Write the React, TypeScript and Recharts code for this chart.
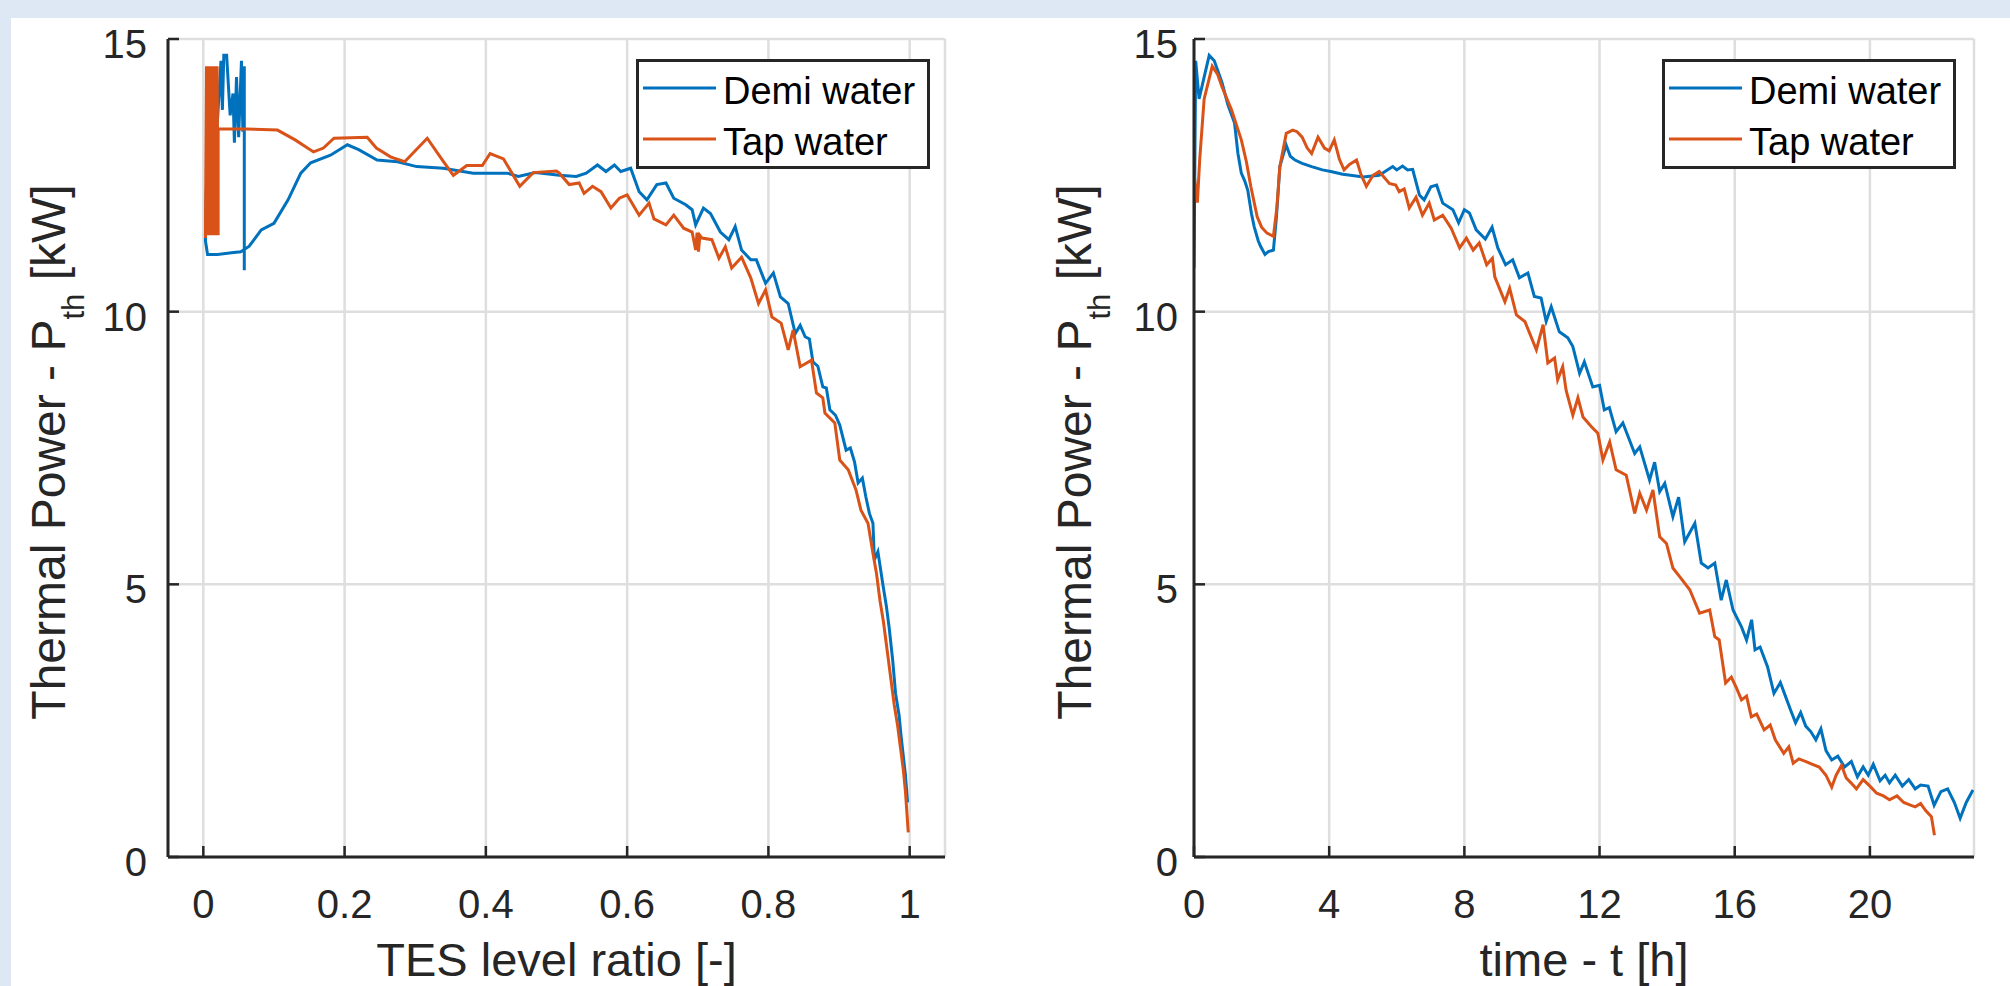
import React from 'react';
import { LineChart, Line, XAxis, YAxis, CartesianGrid, Legend } from 'recharts';

// ---------- tick labels / axis settings ----------
const tesTicks = [0, 0.2, 0.4, 0.6, 0.8, 1];
const timeTicks = [0, 4, 8, 12, 16, 20];
const powerTicks = [0, 5, 10, 15];
const tesDomain = [-0.05, 1.05];
const timeDomain = [0, 23.08];
const powerDomain = [0, 15];
const seriesNames = ['Demi water', 'Tap water'];
const xLabelLeft = 'TES level ratio [-]';
const xLabelRight = 'time - t [h]';

// ---------- left plot: P_th vs TES level ratio ----------
const tesDemi: [number, number][] = [
  [0.058, 10.76], [0.058, 14.5], [0.056, 13.3], [0.054, 14.6], [0.05, 13.2], [0.047, 14.3],
  [0.044, 13.1], [0.042, 14.0], [0.038, 13.6], [0.033, 14.7], [0.029, 14.7], [0.027, 13.7],
  [0.025, 14.6], [0.02, 13.5], [0.012, 13.0], [0.004, 12.2], [0.003, 11.3], [0.006, 11.05],
  [0.02, 11.05], [0.04, 11.08], [0.053, 11.1], [0.065, 11.2], [0.082, 11.5], [0.1, 11.62],
  [0.12, 12.05], [0.138, 12.54], [0.152, 12.73], [0.18, 12.87], [0.204, 13.06], [0.22, 12.97],
  [0.246, 12.78], [0.275, 12.75], [0.302, 12.66], [0.34, 12.63], [0.382, 12.54], [0.43, 12.54],
  [0.446, 12.48], [0.47, 12.55], [0.504, 12.5], [0.528, 12.48], [0.542, 12.54], [0.558, 12.69],
  [0.57, 12.57], [0.582, 12.69], [0.591, 12.57], [0.605, 12.63], [0.617, 12.2], [0.628, 12.05],
  [0.642, 12.33], [0.655, 12.36], [0.666, 12.08], [0.683, 11.96], [0.692, 11.87], [0.697, 11.59],
  [0.708, 11.9], [0.718, 11.8], [0.732, 11.46], [0.744, 11.32], [0.753, 11.56], [0.762, 11.13],
  [0.775, 10.95], [0.783, 10.95], [0.796, 10.52], [0.807, 10.71], [0.817, 10.27], [0.828, 10.15],
  [0.838, 9.6], [0.845, 9.75], [0.852, 9.54], [0.858, 9.5], [0.863, 9.08], [0.87, 9.0],
  [0.877, 8.62], [0.882, 8.6], [0.887, 8.2], [0.895, 8.1], [0.901, 7.92], [0.91, 7.46],
  [0.916, 7.5], [0.922, 7.24], [0.927, 6.86], [0.933, 6.95], [0.938, 6.6], [0.943, 6.3],
  [0.948, 6.12], [0.95, 5.45], [0.955, 5.6], [0.962, 5.0], [0.967, 4.6], [0.971, 4.2],
  [0.976, 3.6], [0.98, 3.0], [0.985, 2.6], [0.988, 2.2], [0.994, 1.5], [0.997, 1.0],
];

const tesTap: [number, number][] = [
  [0.003, 11.35], [0.0045, 14.5], [0.006, 11.4], [0.0075, 14.5], [0.009, 11.4], [0.0105, 14.5],
  [0.012, 11.4], [0.0135, 14.5], [0.015, 11.4], [0.0165, 14.5], [0.018, 11.4], [0.0195, 14.5],
  [0.021, 11.4], [0.021, 13.35], [0.06, 13.35], [0.105, 13.33], [0.13, 13.15], [0.156, 12.93],
  [0.17, 13.0], [0.185, 13.18], [0.232, 13.2], [0.245, 13.0], [0.265, 12.84], [0.285, 12.75],
  [0.3, 12.95], [0.317, 13.18], [0.34, 12.75], [0.354, 12.5], [0.373, 12.68], [0.395, 12.68],
  [0.406, 12.9], [0.425, 12.8], [0.448, 12.3], [0.467, 12.55], [0.5, 12.58], [0.504, 12.54],
  [0.518, 12.33], [0.532, 12.36], [0.539, 12.17], [0.551, 12.3], [0.563, 12.2], [0.577, 11.9],
  [0.589, 12.08], [0.6, 12.14], [0.617, 11.77], [0.631, 11.99], [0.638, 11.7], [0.655, 11.59],
  [0.666, 11.77], [0.68, 11.53], [0.692, 11.46], [0.697, 11.13], [0.699, 11.45], [0.701, 11.1],
  [0.703, 11.4], [0.706, 11.35], [0.72, 11.32], [0.73, 10.98], [0.739, 11.19], [0.748, 10.8],
  [0.762, 11.0], [0.775, 10.62], [0.786, 10.15], [0.796, 10.4], [0.805, 9.9], [0.818, 9.79],
  [0.828, 9.3], [0.835, 9.66], [0.845, 8.99], [0.861, 9.11], [0.868, 8.51], [0.877, 8.42],
  [0.88, 8.14], [0.894, 7.96], [0.901, 7.28], [0.913, 7.1], [0.924, 6.73], [0.931, 6.36],
  [0.941, 6.12], [0.948, 5.57], [0.953, 5.2], [0.958, 4.7], [0.963, 4.3], [0.968, 3.8],
  [0.973, 3.3], [0.978, 2.8], [0.983, 2.4], [0.987, 2.0], [0.991, 1.6], [0.994, 1.2],
  [0.998, 0.45],
];

// ---------- right plot: P_th vs time ----------
const timeDemi: [number, number][] = [
  [0.0, 10.8], [0.05, 14.6], [0.15, 13.9], [0.3, 14.3], [0.45, 14.7], [0.6, 14.6], [0.83, 14.2],
  [1.0, 13.8], [1.2, 13.46], [1.3, 12.9], [1.4, 12.54], [1.5, 12.4], [1.59, 12.23], [1.7, 11.8],
  [1.78, 11.56], [1.9, 11.3], [1.97, 11.2], [2.1, 11.05], [2.2, 11.1], [2.35, 11.13], [2.44, 11.74],
  [2.54, 12.66], [2.65, 12.9], [2.73, 13.05], [2.85, 12.85], [2.99, 12.78], [3.2, 12.72], [3.48, 12.66],
  [3.8, 12.6], [4.05, 12.57], [4.4, 12.52], [4.63, 12.5], [5.0, 12.47], [5.48, 12.5], [5.88, 12.66],
  [6.0, 12.6], [6.17, 12.67], [6.32, 12.6], [6.47, 12.61], [6.67, 12.14], [6.81, 12.05], [7.01, 12.29],
  [7.18, 12.32], [7.36, 11.99], [7.66, 11.87], [7.83, 11.63], [8.0, 11.87], [8.15, 11.81], [8.35, 11.5],
  [8.62, 11.33], [8.82, 11.55], [8.99, 11.17], [9.22, 10.86], [9.43, 10.95], [9.63, 10.62], [9.88, 10.71],
  [10.07, 10.28], [10.27, 10.25], [10.42, 9.82], [10.57, 10.09], [10.81, 9.63], [11.06, 9.52],
  [11.21, 9.36], [11.41, 8.87], [11.55, 9.08], [11.8, 8.62], [12.0, 8.65], [12.14, 8.2], [12.29, 8.24],
  [12.49, 7.8], [12.69, 7.96], [13.04, 7.4], [13.19, 7.52], [13.48, 6.91], [13.63, 7.24], [13.78, 6.7],
  [13.93, 6.85], [14.17, 6.24], [14.34, 6.6], [14.52, 5.78], [14.82, 6.12], [15.01, 5.39], [15.21, 5.3],
  [15.41, 5.39], [15.6, 4.71], [15.75, 5.08], [15.95, 4.53], [16.2, 4.22], [16.35, 3.98], [16.5, 4.35],
  [16.6, 3.8], [16.75, 3.85], [16.97, 3.49], [17.16, 3.0], [17.35, 3.2], [17.5, 2.95], [17.65, 2.7],
  [17.8, 2.46], [17.95, 2.65], [18.1, 2.4], [18.25, 2.3], [18.4, 2.15], [18.55, 2.35], [18.7, 1.95],
  [18.87, 1.78], [19.05, 1.85], [19.25, 1.65], [19.45, 1.75], [19.63, 1.47], [19.8, 1.65], [19.95, 1.5],
  [20.1, 1.7], [20.3, 1.4], [20.45, 1.5], [20.58, 1.36], [20.75, 1.5], [20.96, 1.3], [21.15, 1.42],
  [21.34, 1.25], [21.5, 1.32], [21.72, 1.3], [21.9, 0.95], [22.1, 1.2], [22.3, 1.25], [22.5, 1.0],
  [22.67, 0.71], [22.85, 1.0], [23.05, 1.23],
];

const timeTap: [number, number][] = [
  [0.0, 12.54], [0.1, 12.0], [0.17, 12.8], [0.3, 13.9], [0.54, 14.5], [0.7, 14.35], [0.83, 14.12],
  [1.11, 13.7], [1.4, 13.15], [1.55, 12.75], [1.68, 12.3], [1.87, 11.74], [2.0, 11.55], [2.16, 11.44],
  [2.35, 11.38], [2.45, 11.9], [2.54, 12.66], [2.73, 13.27], [2.92, 13.33], [3.05, 13.3], [3.2, 13.2],
  [3.35, 13.0], [3.48, 12.9], [3.67, 13.2], [3.86, 13.0], [4.0, 12.95], [4.15, 13.15], [4.3, 12.8],
  [4.44, 12.6], [4.6, 12.7], [4.81, 12.78], [4.95, 12.5], [5.1, 12.3], [5.3, 12.5], [5.48, 12.57],
  [5.78, 12.35], [5.97, 12.32], [6.07, 12.2], [6.22, 12.25], [6.37, 11.9], [6.57, 12.1], [6.76, 11.77],
  [6.96, 11.99], [7.11, 11.68], [7.36, 11.77], [7.61, 11.53], [7.86, 11.17], [8.06, 11.35], [8.26, 11.13],
  [8.44, 11.26], [8.66, 10.86], [8.83, 10.98], [8.9, 10.64], [9.2, 10.18], [9.34, 10.43], [9.54, 9.94],
  [9.79, 9.82], [10.13, 9.3], [10.33, 9.76], [10.47, 9.06], [10.67, 9.15], [10.76, 8.75], [10.91, 8.99],
  [11.01, 8.56], [11.21, 8.1], [11.36, 8.42], [11.51, 8.07], [11.76, 7.89], [11.95, 7.77], [12.1, 7.28],
  [12.3, 7.61], [12.49, 7.1], [12.79, 7.0], [13.04, 6.3], [13.19, 6.67], [13.39, 6.36], [13.58, 6.73],
  [13.78, 5.87], [13.98, 5.75], [14.17, 5.3], [14.37, 5.14], [14.67, 4.9], [14.96, 4.47], [15.26, 4.53],
  [15.41, 4.04], [15.54, 3.98], [15.73, 3.19], [15.9, 3.3], [16.05, 3.1], [16.2, 2.88], [16.35, 2.95],
  [16.49, 2.57], [16.65, 2.62], [16.87, 2.33], [17.05, 2.42], [17.2, 2.15], [17.45, 1.9], [17.6, 2.02],
  [17.73, 1.72], [17.9, 1.8], [18.11, 1.75], [18.3, 1.7], [18.5, 1.65], [18.7, 1.5], [18.87, 1.28],
  [19.0, 1.5], [19.16, 1.68], [19.3, 1.45], [19.44, 1.36], [19.6, 1.25], [19.8, 1.42], [20.0, 1.3],
  [20.2, 1.17], [20.4, 1.12], [20.58, 1.05], [20.8, 1.12], [21.0, 1.0], [21.2, 0.95], [21.34, 0.92],
  [21.5, 0.98], [21.65, 0.85], [21.82, 0.74], [21.91, 0.4],
];

// ---------- styling ----------
const FONT = '"Liberation Sans", Arial, Helvetica, sans-serif';
const AX = '#262626';
const BLUE = '#0072BD';
const ORANGE = '#D95319';
const GRID = '#dedede';
const TICK_FS = 40;
const LABEL_FS = 47;
const YLABEL_FS = 48;
const LEGEND_FS = 38;
const TICK_LEN = 11;

const toPts = (arr: [number, number][]) => arr.map(([x, y]) => ({ x, y }));

const fmtNum = (v: number) => String(v);

function BottomTick(props: any) {
  const { x, y, payload } = props;
  return (
    <g>
      <line x1={x} y1={y} x2={x} y2={y - TICK_LEN} stroke={AX} strokeWidth={2.5} />
      <text x={x} y={y + 61} textAnchor="middle" fontSize={TICK_FS} fill={AX} fontFamily={FONT}>
        {fmtNum(payload.value)}
      </text>
    </g>
  );
}

function TopTick(props: any) {
  const { x, y } = props;
  return <line x1={x} y1={y} x2={x} y2={y + TICK_LEN} stroke={AX} strokeWidth={2.5} />;
}

function makeLeftTick(gap: number) {
  return (props: any) => {
    const { x, y, payload } = props;
    return (
      <g>
        <line x1={x} y1={y} x2={x + TICK_LEN} y2={y} stroke={AX} strokeWidth={2.5} />
        <text x={x - gap} y={y + 19} textAnchor="end" fontSize={TICK_FS} fill={AX} fontFamily={FONT}>
          {fmtNum(payload.value)}
        </text>
      </g>
    );
  };
}

function RightTick(props: any) {
  const { x, y } = props;
  return <line x1={x} y1={y} x2={x - TICK_LEN} y2={y} stroke={AX} strokeWidth={2.5} />;
}

function XLabel(props: any) {
  const { viewBox, text } = props;
  const cx = viewBox.x + viewBox.width / 2;
  return (
    <text x={cx} y={viewBox.y + 119} textAnchor="middle" fontSize={LABEL_FS} fill={AX} fontFamily={FONT}>
      {text}
    </text>
  );
}

function YLabel(props: any) {
  const { viewBox } = props;
  const cx = viewBox.x + viewBox.width - 103;
  const cy = viewBox.y + viewBox.height / 2 + 4;
  return (
    <text
      x={cx}
      y={cy}
      transform={`rotate(-90 ${cx} ${cy})`}
      textAnchor="middle"
      fontSize={YLABEL_FS}
      fill={AX}
      fontFamily={FONT}
    >
      <tspan>Thermal Power - P</tspan>
      <tspan fontSize={31} dy={19}>th</tspan>
      <tspan dy={-19}> [kW]</tspan>
    </text>
  );
}

function LegendBox(props: any) {
  const { payload } = props;
  const items = (payload || []) as any[];
  return (
    <svg width={294} height={110} style={{ display: 'block' }}>
      <rect x={1.5} y={1.5} width={291} height={107} fill="#ffffff" stroke={AX} strokeWidth={3} />
      {items.map((it, i) => {
        const ly = 29 + i * 51;
        return (
          <g key={i}>
            <line x1={7} x2={80} y1={ly} y2={ly} stroke={it.color} strokeWidth={3} />
            <text x={87} y={ly + 16} fontSize={LEGEND_FS} fill="#000" fontFamily={FONT}>
              {it.value}
            </text>
          </g>
        );
      })}
    </svg>
  );
}

function Panel(props: {
  width: number;
  yAxisWidth: number;
  marginRight: number;
  domain: number[];
  ticks: number[];
  xLabel: string;
  demi: [number, number][];
  tap: [number, number][];
  legendLeft: number;
  yTickGap: number;
}) {
  const { width, yAxisWidth, marginRight, domain, ticks, xLabel, demi, tap, legendLeft, yTickGap } = props;
  return (
    <LineChart width={width} height={986} margin={{ top: 39, right: marginRight, bottom: 0, left: 0 }}>
      <CartesianGrid stroke={GRID} strokeWidth={2.5} />
      <XAxis
        type="number"
        dataKey="x"
        domain={domain}
        ticks={ticks}
        interval={0}
        allowDataOverflow
        height={129}
        axisLine={{ stroke: AX, strokeWidth: 3 }}
        tickLine={false}
        tickSize={0}
        tickMargin={0}
        tick={BottomTick}
        label={<XLabel text={xLabel} />}
      />
      <XAxis
        xAxisId="top"
        orientation="top"
        type="number"
        dataKey="x"
        domain={domain}
        ticks={ticks}
        interval={0}
        allowDataOverflow
        height={0}
        axisLine={{ stroke: AX, strokeWidth: 3 }}
        tickLine={false}
        tickSize={0}
        tickMargin={0}
        tick={TopTick}
      />
      <YAxis
        type="number"
        domain={powerDomain}
        ticks={powerTicks}
        interval={0}
        allowDataOverflow
        width={yAxisWidth}
        axisLine={{ stroke: AX, strokeWidth: 3 }}
        tickLine={false}
        tickSize={0}
        tickMargin={0}
        tick={makeLeftTick(yTickGap)}
        label={<YLabel />}
      />
      <YAxis
        yAxisId="right"
        orientation="right"
        type="number"
        domain={powerDomain}
        ticks={powerTicks}
        interval={0}
        allowDataOverflow
        width={0}
        axisLine={{ stroke: AX, strokeWidth: 3 }}
        tickLine={false}
        tickSize={0}
        tickMargin={0}
        tick={RightTick}
      />
      <Line
        data={toPts(demi)}
        dataKey="y"
        name={seriesNames[0]}
        type="linear"
        stroke={BLUE}
        strokeWidth={3}
        dot={false}
        activeDot={false}
        isAnimationActive={false}
      />
      <Line
        data={toPts(tap)}
        dataKey="y"
        name={seriesNames[1]}
        type="linear"
        stroke={ORANGE}
        strokeWidth={3}
        dot={false}
        activeDot={false}
        isAnimationActive={false}
      />
      <Legend
        layout="horizontal"
        verticalAlign="middle"
        align="center"
        content={LegendBox}
        wrapperStyle={{ position: 'absolute', left: legendLeft, top: 59, width: 294, height: 110, margin: 0, padding: 0 }}
      />
    </LineChart>
  );
}

export default function App() {
  return (
    <div
      style={{
        position: 'absolute',
        left: 0,
        top: 0,
        width: 2010,
        height: 986,
        background: '#dde8f4',
        overflow: 'hidden',
        fontFamily: FONT,
      }}
    >
      <div style={{ position: 'absolute', left: 11, top: 18, width: 1999, height: 968, background: '#ffffff' }} />
      <div style={{ position: 'absolute', left: 0, top: 0 }}>
        <Panel
          width={1000}
          yAxisWidth={168}
          marginRight={55}
          domain={tesDomain}
          ticks={tesTicks}
          xLabel={xLabelLeft}
          demi={tesDemi}
          tap={tesTap}
          legendLeft={636}
          yTickGap={21}
        />
      </div>
      <div style={{ position: 'absolute', left: 1000, top: 0 }}>
        <Panel
          width={1010}
          yAxisWidth={194}
          marginRight={36}
          domain={timeDomain}
          ticks={timeTicks}
          xLabel={xLabelRight}
          demi={timeDemi}
          tap={timeTap}
          legendLeft={662}
          yTickGap={16}
        />
      </div>
    </div>
  );
}
